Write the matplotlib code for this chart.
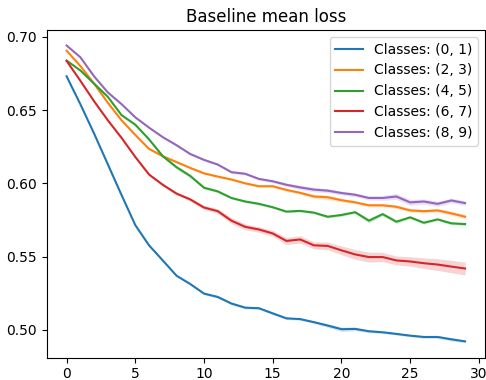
import numpy as np
import matplotlib
matplotlib.use("Agg")
import matplotlib.pyplot as plt

epochs = list(range(30))
labels = ["Classes: (0, 1)", "Classes: (2, 3)", "Classes: (4, 5)",
          "Classes: (6, 7)", "Classes: (8, 9)"]

loss_01 = [0.673, 0.654, 0.634, 0.613, 0.592, 0.5715, 0.5577, 0.5474, 0.537, 0.5313,
           0.5248, 0.5225, 0.518, 0.5152, 0.5148, 0.5113, 0.5079, 0.5074, 0.5053, 0.503,
           0.5005, 0.5007, 0.4991, 0.4984, 0.4973, 0.4961, 0.4952, 0.4952, 0.4936, 0.4922]
loss_23 = [0.6905, 0.680, 0.668, 0.655, 0.643, 0.633, 0.6235, 0.6185, 0.6145, 0.6105,
           0.6068, 0.6046, 0.6026, 0.600, 0.598, 0.598, 0.5955, 0.5935, 0.591, 0.5905,
           0.5885, 0.587, 0.585, 0.585, 0.584, 0.5815, 0.581, 0.5815, 0.5795, 0.5772]
loss_45 = [0.6837, 0.677, 0.668, 0.659, 0.6465, 0.640, 0.630, 0.6185, 0.611, 0.605,
           0.597, 0.5945, 0.590, 0.5876, 0.586, 0.5837, 0.5807, 0.5812, 0.580, 0.5772,
           0.5784, 0.5803, 0.5745, 0.579, 0.5738, 0.5768, 0.5731, 0.5754, 0.5727, 0.5722]
loss_67 = [0.6835, 0.670, 0.656, 0.643, 0.631, 0.618, 0.606, 0.599, 0.593, 0.589,
           0.5835, 0.581, 0.5745, 0.5703, 0.5685, 0.5658, 0.5607, 0.5617, 0.5577, 0.5573,
           0.5543, 0.5515, 0.5497, 0.5497, 0.5474, 0.5467, 0.5455, 0.5446, 0.5432, 0.5419]
loss_89 = [0.694, 0.686, 0.673, 0.662, 0.654, 0.645, 0.638, 0.6315, 0.626, 0.620,
           0.616, 0.6128, 0.6076, 0.6065, 0.603, 0.6014, 0.599, 0.5972, 0.5957, 0.595,
           0.5934, 0.5922, 0.590, 0.590, 0.591, 0.587, 0.5876, 0.586, 0.5883, 0.5865]

band_01 = [0.0004, 0.0004, 0.0004, 0.0005, 0.0005, 0.0005, 0.0006, 0.0006, 0.0006, 0.0007,
           0.0008, 0.0009, 0.0009, 0.0008, 0.0008, 0.0009, 0.0008, 0.0008, 0.0009, 0.0012,
           0.0015, 0.0012, 0.0009, 0.0008, 0.0008, 0.0008, 0.0009, 0.0009, 0.0011, 0.0009]
band_23 = [0.0004, 0.0004, 0.0005, 0.0005, 0.0005, 0.0006, 0.0006, 0.0006, 0.0006, 0.0007,
           0.0007, 0.0007, 0.0008, 0.0008, 0.0008, 0.0009, 0.0009, 0.0010, 0.0014, 0.0015,
           0.0012, 0.0010, 0.0010, 0.0011, 0.0012, 0.0013, 0.0012, 0.0012, 0.0014, 0.0015]
band_45 = [0.0004, 0.0005, 0.0005, 0.0005, 0.0006, 0.0006, 0.0008, 0.0010, 0.0012, 0.0012,
           0.0010, 0.0009, 0.0008, 0.0008, 0.0008, 0.0008, 0.0008, 0.0008, 0.0008, 0.0009,
           0.0009, 0.0009, 0.0015, 0.0012, 0.0012, 0.0010, 0.0010, 0.0009, 0.0010, 0.0010]
band_67 = [0.0004, 0.0005, 0.0005, 0.0006, 0.0006, 0.0007, 0.0008, 0.0009, 0.0011, 0.0012,
           0.0014, 0.0016, 0.0020, 0.0020, 0.0019, 0.0020, 0.0024, 0.0025, 0.0024, 0.0026,
           0.0030, 0.0033, 0.0034, 0.0032, 0.0030, 0.0032, 0.0036, 0.0040, 0.0042, 0.0044]
band_89 = [0.0004, 0.0004, 0.0005, 0.0005, 0.0005, 0.0006, 0.0006, 0.0007, 0.0007, 0.0008,
           0.0008, 0.0008, 0.0009, 0.0009, 0.0009, 0.0010, 0.0012, 0.0014, 0.0015, 0.0014,
           0.0013, 0.0013, 0.0014, 0.0016, 0.0020, 0.0020, 0.0018, 0.0017, 0.0016, 0.0016]

series = [loss_01, loss_23, loss_45, loss_67, loss_89]
bands = [band_01, band_23, band_45, band_67, band_89]
colors = ["#1f77b4", "#ff7f0e", "#2ca02c", "#d62728", "#9467bd"]

fig = plt.figure(figsize=(4.86, 3.8), dpi=100)
ax = fig.add_axes([0.096, 0.059, 0.902, 0.862])

x = np.array(epochs)
for y, b, c, lab in zip(series, bands, colors, labels):
    y = np.array(y)
    b = np.array(b)
    ax.fill_between(x, y - b, y + b, color=c, alpha=0.2, linewidth=0)
    ax.plot(x, y, color=c, linewidth=1.5, label=lab)

ax.set_title("Baseline mean loss")
ax.set_yticks([0.50, 0.55, 0.60, 0.65, 0.70])
ax.set_xticks([0, 5, 10, 15, 20, 25, 30])
ax.legend(loc="upper right")

fig.savefig("out.png", dpi=100)
